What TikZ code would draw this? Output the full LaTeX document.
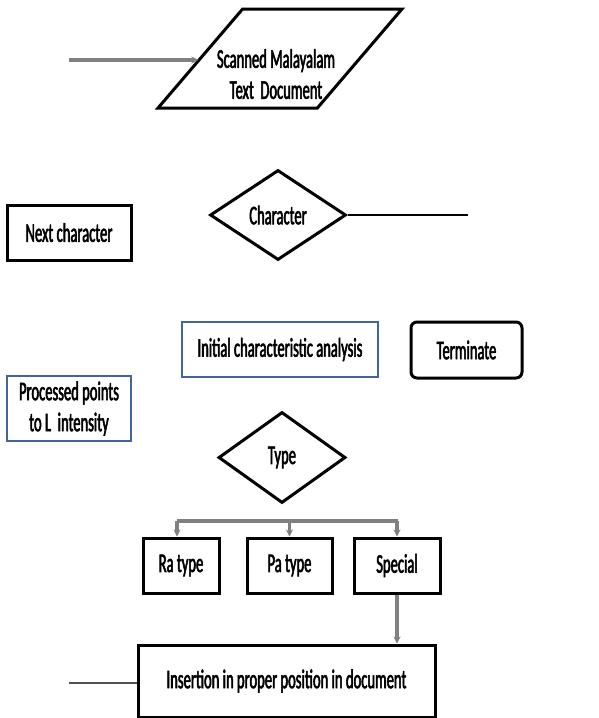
\documentclass[tikz,border=0pt]{standalone}
\usepackage{fontspec}
\newfontfamily\lab[FakeStretch=0.54,FakeBold=2]{Carlito}
\usetikzlibrary{shapes.geometric,arrows.meta}
\definecolor{boxblue}{RGB}{68,100,160}
\definecolor{conn}{RGB}{128,128,128}
\definecolor{dconn}{RGB}{80,80,80}
\begin{document}
\begin{tikzpicture}[x=1pt,y=-1pt,
  every node/.style={font=\lab\fontsize{27}{31}\selectfont, align=center, inner sep=0pt},
  blackbox/.style={draw=black, line width=3pt, rectangle, fill=white},
  bluebox/.style={draw=boxblue, line width=2.8pt, rectangle, fill=white},
  decision/.style={draw=black, line width=3pt, diamond, inner sep=0pt, fill=white},
  flow/.style={draw=conn, line width=3.2pt, -{Stealth[length=7pt,width=7pt]}},
  plain/.style={draw=conn, line width=3.2pt}
]
\fill[white] (0,0) rectangle (598,718);
\useasboundingbox (0,0) rectangle (598,718);

% input parallelogram
\node[draw=black, line width=3pt, trapezium, trapezium left angle=63.7, trapezium right angle=116.3,
      trapezium stretches=true, minimum width=244pt, minimum height=99pt] (scan) at (280,58.5) {\phantom{X}};
\node (scantext) at (276,74) {Scanned Malayalam\\Text~~Document};

\node[decision, minimum width=136pt, minimum height=90pt] (char) at (278,215) {Character};
\node[blackbox, minimum width=124pt, minimum height=55pt] (next) at (69,232.5) {Next character};
\node[bluebox, minimum width=196pt, minimum height=55pt] (init) at (280,349.5) {Initial characteristic analysis};
\node[blackbox, rounded corners=6pt, minimum width=111pt, minimum height=56pt] (term) at (466.5,350) {Terminate};
\node[bluebox, minimum width=124pt, minimum height=65pt] (proc) at (69,408.5) {Processed points\\to L~~intensity};
\node[decision, minimum width=127pt, minimum height=91pt] (type) at (282,457.5) {Type};

\node[blackbox, minimum width=76pt, minimum height=55pt] (ra) at (181,565.5) {Ra type};
\node[blackbox, minimum width=85pt, minimum height=55pt] (pa) at (289.5,565.5) {Pa type};
\node[blackbox, minimum width=86pt, minimum height=55pt] (spec) at (397,565.5) {Special};
\node[blackbox, minimum width=297pt, minimum height=72pt] (ins) at (286.5,681) {Insertion in proper position in document};

% free ends
\coordinate (inL) at (69,60);
\coordinate (charR) at (468,215);
\coordinate (insL) at (69,683);
\coordinate (brL) at (177,521);
\coordinate (brR) at (398,521);

\draw[flow] (inL) -- (inL -| scan.west);
\draw[black, line width=2.4pt] (char.east) -- (charR);
\draw[plain] (brL) -- (brR);
\draw[flow] (brL) -- (brL |- ra.north);
\draw[flow] (pa.north |- brL) -- (pa.north);
\draw[flow] (spec.north |- brL) -- (spec.north);
\draw[flow] (spec.south) -- (spec.south |- ins.north);
\draw[dconn, line width=2.8pt] (insL) -- (insL -| ins.west);
\end{tikzpicture}
\end{document}
